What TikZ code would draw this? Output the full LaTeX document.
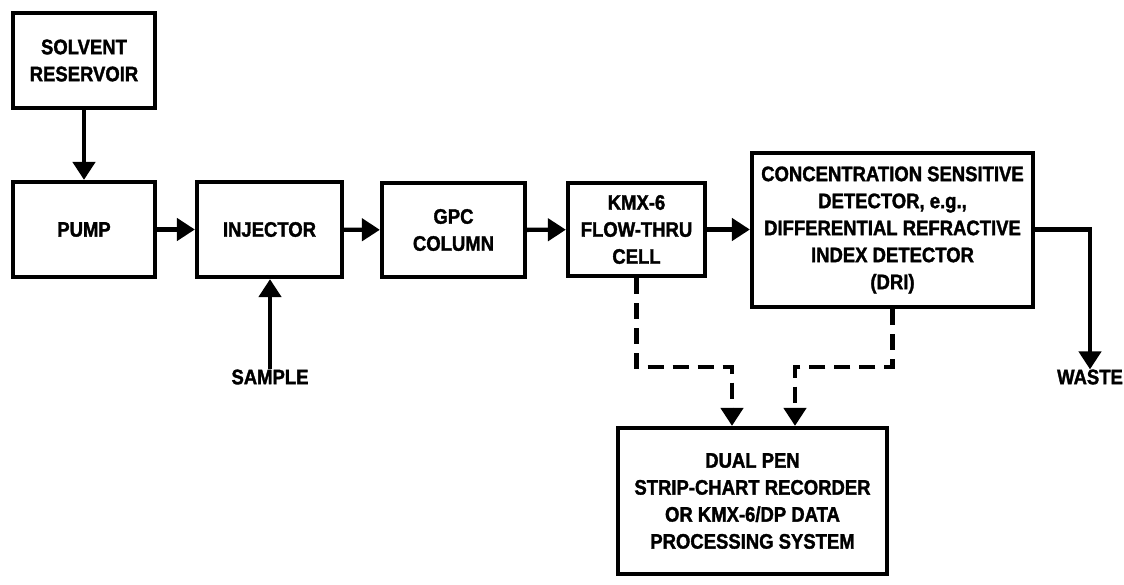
\documentclass[tikz,border=0pt]{standalone}
\usepackage{fontspec}
\newfontfamily\lab{Liberation Sans Bold}[FakeStretch=0.88,FakeBold=1.6]
\usetikzlibrary{arrows.meta}
\begin{document}
\begin{tikzpicture}[x=1pt,y=-1pt,
  box/.style={draw,line width=4.2pt,rectangle,align=center,inner sep=0pt,
    font=\lab\fontsize{21}{27}\selectfont},
  lbl/.style={align=center,inner sep=0pt,font=\lab\fontsize{21}{27}\selectfont},
  flow/.style={line width=4.4pt,-{Triangle[length=18pt,width=22pt]}},
  sig/.style={line width=4.4pt,dash pattern=on 16pt off 9pt,-{Triangle[length=18pt,width=22pt]}}]
\useasboundingbox (0,0) rectangle (1124,584);
\node[box,minimum width=142pt,minimum height=95pt] (res) at (84,60.5) {SOLVENT\\RESERVOIR};
\node[box,minimum width=142pt,minimum height=95pt] (pump) at (84,229.5) {PUMP};
\node[box,minimum width=145pt,minimum height=95pt] (inj) at (269.5,229.5) {INJECTOR};
\node[box,minimum width=143pt,minimum height=94pt] (gpc) at (453.5,230) {GPC\\COLUMN};
\node[box,minimum width=137pt,minimum height=93pt] (kmx) at (636.5,229.5) {KMX-6\\FLOW-THRU\\CELL};
\node[box,minimum width=281pt,minimum height=154pt] (det) at (892.5,230) {CONCENTRATION SENSITIVE\\DETECTOR, e.g.,\\DIFFERENTIAL REFRACTIVE\\INDEX DETECTOR\\(DRI)};
\node[box,minimum width=269pt,minimum height=146pt] (rec) at (752.5,501) {DUAL PEN\\STRIP-CHART RECORDER\\OR KMX-6/DP DATA\\PROCESSING SYSTEM};
\node[lbl] (sample) at (270,377) {SAMPLE};
\node[lbl] (waste) at (1090,377) {WASTE};
\coordinate (ka) at (732,367);
\coordinate (kb) at (795,367);
\draw[flow] (res) -- (pump);
\draw[flow] (pump) -- (inj);
\draw[flow] (inj) -- (gpc);
\draw[flow] (gpc) -- (kmx);
\draw[flow] (kmx) -- (det.west |- kmx);
\draw[flow] (sample) -- (inj.south -| sample);
\draw[flow] (det.east |- kmx) -| (waste.north);
\draw[sig] (kmx.south) |- (ka) -- (ka |- rec.north);
\draw[sig] (det.south) |- (kb) -- (kb |- rec.north);
\end{tikzpicture}
\end{document}
